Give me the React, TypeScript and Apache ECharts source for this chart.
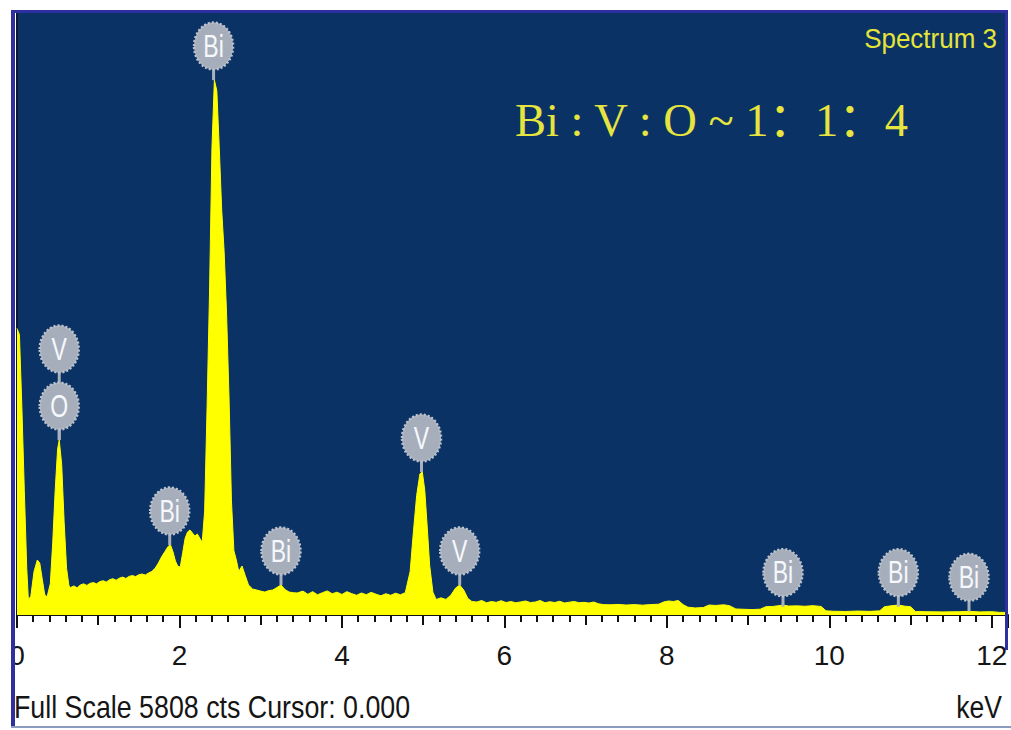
import React, { useEffect, useRef } from "react";
import * as echarts from "echarts";

// Spectrum (energy in keV, counts)
const spectrumKeV = [
  0, 0.03, 0.06, 0.09, 0.12, 0.14, 0.17, 0.21, 0.25, 0.28, 0.31, 0.34, 0.37, 0.41, 0.44, 0.47, 0.5, 0.52, 0.55, 0.58, 0.61, 0.64,
  0.66, 0.7, 0.74, 0.78, 0.82, 0.86, 0.9, 0.94, 0.98, 1.02, 1.06, 1.1, 1.14, 1.18, 1.22, 1.26, 1.3, 1.34, 1.38, 1.42, 1.46, 1.5,
  1.54, 1.58, 1.62, 1.66, 1.7, 1.74, 1.78, 1.82, 1.86, 1.89, 1.92, 1.95, 1.98, 2.01, 2.04, 2.07, 2.1, 2.13, 2.16, 2.19, 2.22, 2.25,
  2.28, 2.31, 2.34, 2.37, 2.4, 2.43, 2.46, 2.49, 2.52, 2.55, 2.58, 2.61, 2.64, 2.67, 2.7, 2.73, 2.77, 2.81, 2.85, 2.9, 2.95, 3.0,
  3.05, 3.1, 3.15, 3.2, 3.25, 3.3, 3.35, 3.4, 3.45, 3.52, 3.58, 3.64, 3.7, 3.76, 3.82, 3.88, 3.94, 4.0, 4.06, 4.12, 4.18, 4.24,
  4.3, 4.36, 4.42, 4.48, 4.54, 4.6, 4.66, 4.72, 4.78, 4.84, 4.88, 4.92, 4.96, 4.99, 5.02, 5.05, 5.08, 5.12, 5.16, 5.22, 5.28, 5.34,
  5.4, 5.45, 5.5, 5.55, 5.6, 5.66, 5.72, 5.78, 5.84, 5.9, 5.96, 6.02, 6.08, 6.14, 6.2, 6.26, 6.32, 6.38, 6.44, 6.5, 6.56, 6.62,
  6.68, 6.74, 6.8, 6.86, 6.92, 6.98, 7.04, 7.1, 7.16, 7.22, 7.3, 7.4, 7.5, 7.6, 7.7, 7.8, 7.9, 7.96, 8.02, 8.08, 8.14, 8.2,
  8.26, 8.35, 8.45, 8.52, 8.6, 8.7, 8.77, 8.85, 8.95, 9.05, 9.15, 9.22, 9.3, 9.38, 9.43, 9.5, 9.6, 9.7, 9.8, 9.9, 9.96, 10.05,
  10.2, 10.35, 10.5, 10.62, 10.68, 10.76, 10.85, 10.93, 11.0, 11.06, 11.2, 11.4, 11.6, 11.72, 11.85, 12.0, 12.1, 12.2,
];
const spectrumCounts = [
  2760, 2700, 2000, 1200, 450, 150, 180, 420, 530, 500, 350, 200, 173, 300, 700, 1200, 1600, 1685, 1450, 900, 450, 280,
  265, 280, 262, 290, 300, 285, 305, 312, 300, 322, 330, 318, 340, 350, 335, 355, 365, 352, 372, 380, 370, 388,
  395, 385, 405, 420, 450, 500, 560, 610, 660, 674, 610, 520, 470, 462, 600, 740, 800, 819, 790, 760, 780, 740,
  700, 1000, 2000, 3100, 4500, 5152, 5050, 4500, 3900, 3500, 2900, 2100, 1100, 620, 530, 420, 472, 380, 289, 250, 241, 230,
  221, 235, 241, 265, 289, 245, 221, 215, 212, 230, 200, 225, 195, 215, 232, 205, 220, 198, 225, 206, 190, 212,
  196, 218, 200, 185, 205, 190, 210, 195, 215, 420, 800, 1150, 1360, 1377, 1200, 850, 480, 220, 150, 165, 150, 190,
  260, 289, 240, 160, 130, 125, 140, 118, 130, 122, 138, 120, 130, 118, 126, 135, 120, 125, 140, 118, 128, 120,
  132, 116, 124, 130, 118, 122, 115, 125, 108, 100, 98, 102, 96, 100, 95, 100, 104, 125, 135, 130, 140, 100,
  75, 68, 72, 96, 92, 98, 90, 58, 55, 52, 56, 80, 82, 90, 96, 86, 88, 84, 90, 82, 40, 36,
  34, 38, 35, 40, 80, 88, 96, 85, 80, 34, 32, 30, 32, 35, 30, 32, 25, 25,
];

// Element markers
const markerNames = ["V", "O", "Bi", "Bi", "Bi", "V", "V", "Bi", "Bi", "Bi"];
const markerKeV = [0.52, 0.52, 2.42, 1.88, 3.25, 4.98, 5.45, 9.43, 10.85, 11.72];
const markerCounts = [1685, 1685, 5152, 674, 289, 1377, 289, 80, 80, 35];
const markerLevel = [1, 0, 0, 0, 0, 0, 0, 0, 0, 0];

const xLabels = ["0", "2", "4", "6", "8", "10", "12"];

const X_MAX = 12.2;
const Y_MAX = 5808;

export default function App() {
  const ref = useRef<HTMLDivElement>(null);

  useEffect(() => {
    if (!ref.current) return;
    const chart = echarts.init(ref.current, undefined, { renderer: "svg" });
    const grid = { left: 17, right: 3, top: 12, bottom: 115 };

    const option: any = {
      animation: false,
      backgroundColor: "#ffffff",
      grid: { ...grid, show: true, backgroundColor: "#0a3264", borderWidth: 0 },
      xAxis: [
        {
          type: "value",
          min: 0,
          max: X_MAX,
          interval: 2,
          position: "bottom",
          axisLine: { show: true, onZero: false, lineStyle: { color: "#111111", width: 2 } },
          axisTick: { show: true, length: 13, lineStyle: { color: "#111111", width: 2 } },
          axisLabel: {
            show: true,
            margin: 26,
            color: "#151515",
            fontSize: 28,
            fontFamily: "Liberation Sans, Arial, sans-serif",
            formatter: (v: number) => {
              const r = Math.round(v);
              if (Math.abs(v - r) > 1e-6) return "";
              const s = String(r);
              return xLabels.includes(s) ? s : "";
            },
          },
          splitLine: { show: false },
        },
        {
          type: "value",
          min: 0,
          max: X_MAX,
          interval: 1,
          position: "bottom",
          axisLine: { show: false, onZero: false },
          axisTick: { show: true, length: 10, lineStyle: { color: "#111111", width: 2 } },
          axisLabel: { show: false },
          splitLine: { show: false },
        },
        {
          type: "value",
          min: 0,
          max: X_MAX,
          interval: 0.2,
          position: "bottom",
          axisLine: { show: false, onZero: false },
          axisTick: { show: true, length: 7, lineStyle: { color: "#111111", width: 2 } },
          axisLabel: { show: false },
          splitLine: { show: false },
        },
      ],
      yAxis: {
        type: "value",
        min: 0,
        max: Y_MAX,
        axisLine: { show: true, lineStyle: { color: "#0d1730", width: 2 } },
        axisTick: { show: false },
        axisLabel: { show: false },
        splitLine: { show: false },
      },
      series: [
        {
          type: "line",
          xAxisIndex: 0,
          symbol: "none",
          data: spectrumKeV.map((k, i) => [k, spectrumCounts[i]]),
          lineStyle: { color: "#ffff00", width: 1 },
          areaStyle: { color: "#ffff00", opacity: 1 },
          z: 2,
        },
        {
          type: "custom",
          xAxisIndex: 0,
          coordinateSystem: "cartesian2d",
          clip: false,
          z: 5,
          data: markerKeV.map((k, i) => [k, markerCounts[i], markerLevel[i]]),
          encode: { x: 0, y: 1 },
          renderItem: (params: any, api: any) => {
            const p = api.coord([api.value(0), api.value(1)]);
            const lvl = api.value(2);
            const cx = p[0];
            const cy = p[1] - 34 - lvl * 57;
            const name = markerNames[params.dataIndex];
            return {
              type: "group",
              children: [
                {
                  type: "line",
                  shape: { x1: cx, y1: p[1], x2: cx, y2: cy },
                  style: { stroke: "#aab1bd", lineWidth: 3 },
                },
                {
                  type: "ellipse",
                  shape: { cx, cy, rx: 19.5, ry: 23.5 },
                  style: { fill: "#a7aebb", stroke: "#bcc2cc", lineWidth: 2.5, lineDash: [2, 2] },
                },
                {
                  type: "text",
                  x: cx,
                  y: cy,
                  scaleY: 1.35,
                  style: {
                    text: name,
                    fill: "#f6f8fb",
                    font: '23px "Liberation Sans", Arial, sans-serif',
                    align: "center",
                    verticalAlign: "middle",
                  },
                },
              ],
            };
          },
        },
      ],
      graphic: [
        {
          type: "text",
          x: 997,
          y: 39,
          z: 100,
          scaleY: 1.05,
          style: {
            text: "Spectrum 3",
            fill: "#e4e43a",
            font: '26px "Liberation Sans", Arial, sans-serif',
            align: "right",
            verticalAlign: "middle",
          },
        },
        {
          type: "text",
          x: 515,
          y: 120,
          z: 100,
          style: {
            text: "Bi : V : O ~ 1：1：4",
            fill: "#e6e43e",
            font: '46.5px "Liberation Serif", "Noto Sans CJK SC", serif',
            align: "left",
            verticalAlign: "middle",
          },
        },
        {
          type: "text",
          x: 14,
          y: 707,
          z: 100,
          scaleY: 1.2,
          style: {
            text: "Full Scale 5808 cts Cursor: 0.000",
            fill: "#151515",
            font: '26.8px "Liberation Sans", Arial, sans-serif',
            align: "left",
            verticalAlign: "middle",
          },
        },
        {
          type: "text",
          x: 1002,
          y: 707,
          z: 100,
          scaleY: 1.2,
          style: {
            text: "keV",
            fill: "#151515",
            font: '26.5px "Liberation Sans", Arial, sans-serif',
            align: "right",
            verticalAlign: "middle",
          },
        },
        { type: "rect", z: 99, shape: { x: 0, y: 600, width: 11, height: 130 }, style: { fill: "#ffffff" } },
        { type: "rect", z: 100, shape: { x: 11, y: 10, width: 4, height: 717 }, style: { fill: "#2e30a0" } },
        { type: "rect", z: 100, shape: { x: 11, y: 10, width: 997, height: 3 }, style: { fill: "#2e30a0" } },
        { type: "rect", z: 100, shape: { x: 1005, y: 10, width: 3, height: 640 }, style: { fill: "#2e30a0" } },
        { type: "rect", z: 100, shape: { x: 11, y: 726, width: 1000, height: 2 }, style: { fill: "#8a9bbd" } },
      ],
    };

    chart.setOption(option);
    return () => chart.dispose();
  }, []);

  return (
    <div
      ref={ref}
      style={{ position: "fixed", left: 0, top: 0, width: 1011, height: 730, background: "#ffffff" }}
    />
  );
}
